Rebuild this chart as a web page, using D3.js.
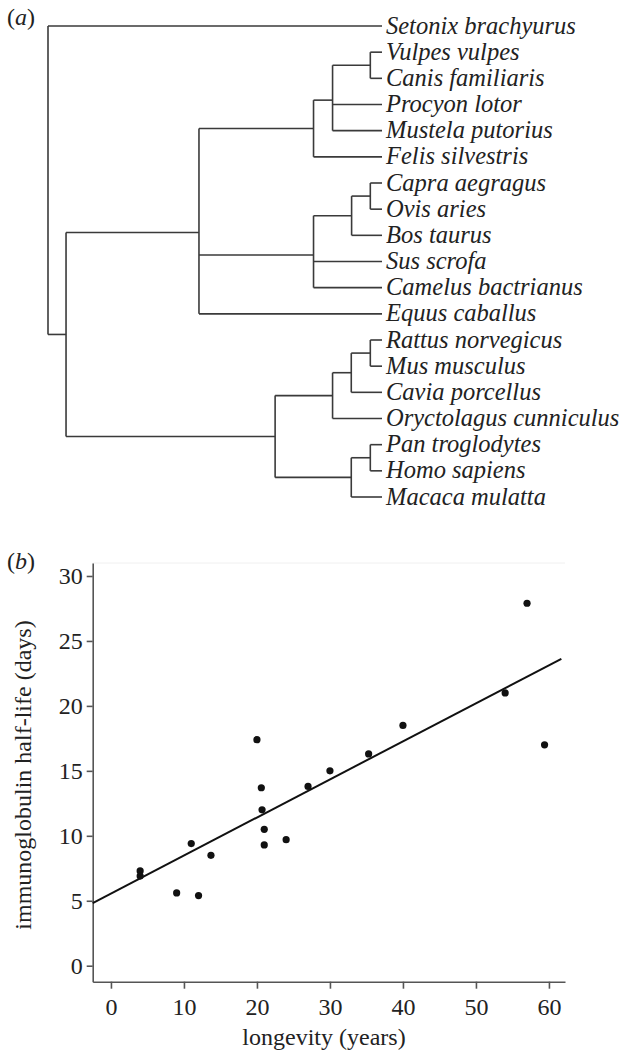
<!DOCTYPE html>
<html lang="en">
	<head>
		<meta charset="utf-8">
		<title>D3: phylogeny and immunoglobulin half-life</title>
		<script src="https://d3js.org/d3.v7.min.js"></script>
		<style type="text/css">
			body { margin: 0; background: #fff; }
			svg text { font-family: "Liberation Serif", "Times New Roman", serif; fill: #222; }
		</style>
	</head>
	<body>
		<script type="text/javascript">

			//Width and height
			var w = 621;
			var h = 1053;

			// (a) tree: tips in drawing order, each with its parent clade
			var species = ["Setonix brachyurus", "Vulpes vulpes", "Canis familiaris", "Procyon lotor",
							"Mustela putorius", "Felis silvestris", "Capra aegragus", "Ovis aries",
							"Bos taurus", "Sus scrofa", "Camelus bactrianus", "Equus caballus",
							"Rattus norvegicus", "Mus musculus", "Cavia porcellus",
							"Oryctolagus cunniculus", "Pan troglodytes", "Homo sapiens", "Macaca mulatta"];
			var speciesParents = ["root", "canidae", "canidae", "caniformia",
							"caniformia", "carnivora", "caprinae", "caprinae",
							"ruminantia", "cetartiodactyla", "cetartiodactyla", "laurasiatheria",
							"muridae", "muridae", "rodentia",
							"glires", "hominidae", "hominidae", "primates"];

			// internal clades, their parents and their depth (0 = root, 1 = tips)
			var clades = ["root", "eutheria", "laurasiatheria", "carnivora", "caniformia", "canidae",
							"cetartiodactyla", "ruminantia", "caprinae", "euarchontoglires",
							"glires", "rodentia", "muridae", "primates", "hominidae"];
			var cladeParents = [null, "root", "eutheria", "laurasiatheria", "carnivora", "caniformia",
							"laurasiatheria", "cetartiodactyla", "ruminantia", "eutheria",
							"euarchontoglires", "glires", "rodentia", "euarchontoglires", "primates"];
			var cladeDepths = [0, 0.054, 0.452, 0.795, 0.852, 0.965,
							0.795, 0.909, 0.965, 0.680,
							0.852, 0.908, 0.965, 0.908, 0.965];

			// (b) scatter: longevity (years) vs immunoglobulin half-life (days)
			var longevity = [4, 4, 9, 11, 12, 13.7, 20, 20.6, 20.7, 21, 21, 24, 27, 30, 35.3, 40, 54, 57, 59.4];
			var halfLife = [7.3, 6.9, 5.6, 9.4, 5.4, 8.5, 17.4, 13.7, 12.0, 10.5, 9.3, 9.7, 13.8, 15.0, 16.3, 18.5, 21.0, 27.9, 17.0];
			var fitIntercept = 5.55;
			var fitSlope = 0.293;
			var xTicks = [0, 10, 20, 30, 40, 50, 60];
			var yTicks = [0, 5, 10, 15, 20, 25, 30];

			//Create SVG element
			var svg = d3.select("body")
						.append("svg")
						.attr("width", w)
						.attr("height", h);

			// ---------- (a) tree ----------
			var rows = clades.map(function(c, i) {
				return { id: c, parent: cladeParents[i], depth01: cladeDepths[i] };
			});
			species.forEach(function(s, i) {
				rows.push({ id: s, parent: speciesParents[i], depth01: 1 });
			});
			var root = d3.stratify().id(function(d) { return d.id; }).parentId(function(d) { return d.parent; })(rows);

			var tx = d3.scaleLinear().domain([0, 1]).range([48, 382]);
			var ty = d3.scalePoint().domain(species).range([26, 497]);

			// put children back into tip order, then place each clade at the mean of its children
			root.eachAfter(function(n) {
				if (n.children) {
					n.children.sort(function(a, b) { return a.yy - b.yy; });
					n.yy = d3.mean(n.children, function(c) { return c.yy; });
				} else {
					n.yy = ty(n.id);
				}
			});

			var tree = svg.append("g")
						.attr("fill", "none")
						.attr("stroke", "#3a3a3a")
						.attr("stroke-width", 1.6);

			// horizontal stems
			tree.selectAll("line.stem")
				.data(root.descendants().filter(function(n) { return n.parent; }))
				.enter()
				.append("line")
				.attr("x1", function(n) { return tx(n.parent.data.depth01); })
				.attr("x2", function(n) { return tx(n.data.depth01); })
				.attr("y1", function(n) { return n.yy; })
				.attr("y2", function(n) { return n.yy; });

			// vertical connectors
			tree.selectAll("line.join")
				.data(root.descendants().filter(function(n) { return n.children; }))
				.enter()
				.append("line")
				.attr("x1", function(n) { return tx(n.data.depth01); })
				.attr("x2", function(n) { return tx(n.data.depth01); })
				.attr("y1", function(n) { return d3.min(n.children, function(c) { return c.yy; }); })
				.attr("y2", function(n) { return d3.max(n.children, function(c) { return c.yy; }); });

			svg.selectAll("text.tip")
				.data(root.leaves())
				.enter()
				.append("text")
				.attr("x", tx(1) + 4)
				.attr("y", function(n) { return n.yy; })
				.attr("dy", "0.31em")
				.attr("font-size", "24.5px")
				.attr("font-style", "italic")
				.text(function(n) { return n.id; });

			var la = svg.append("text").attr("x", 7).attr("y", 25).attr("font-size", "24px");
			la.append("tspan").text("(");
			la.append("tspan").attr("font-style", "italic").text("a");
			la.append("tspan").text(")");

			// ---------- (b) scatter ----------
			var x = d3.scaleLinear().domain([-2.5, 62.2]).range([92.7, 565]);
			var y = d3.scaleLinear().domain([-1.23, 31]).range([981.7, 563]);

			svg.append("line")
				.attr("x1", x(-2.5)).attr("x2", x(62.2))
				.attr("y1", y(31)).attr("y2", y(31))
				.attr("stroke", "#f0f0f0");

			var xAxis = svg.append("g")
				.attr("transform", "translate(0," + y(-1.23) + ")")
				.call(d3.axisBottom(x).tickValues(xTicks).tickSize(7).tickSizeOuter(0).tickPadding(9));
			var yAxis = svg.append("g")
				.attr("transform", "translate(" + x(-2.5) + ",0)")
				.call(d3.axisLeft(y).tickValues(yTicks).tickSize(6).tickSizeOuter(0).tickPadding(4));

			[xAxis, yAxis].forEach(function(a) {
				a.attr("font-family", null).attr("font-size", null);
				a.select(".domain").attr("stroke", "#555").attr("stroke-width", 1.6);
				a.selectAll(".tick line").attr("stroke", "#555").attr("stroke-width", 1.6);
				a.selectAll(".tick text").attr("font-size", "24px").attr("fill", "#222");
			});

			svg.append("line")
				.attr("x1", x(-2.5)).attr("x2", x(61.7))
				.attr("y1", y(fitIntercept + fitSlope * -2.5))
				.attr("y2", y(fitIntercept + fitSlope * 61.7))
				.attr("stroke", "#111")
				.attr("stroke-width", 2);

			svg.selectAll("circle")
			   .data(longevity)
			   .enter()
			   .append("circle")
			   .attr("cx", function(d) { return x(d); })
			   .attr("cy", function(d, i) { return y(halfLife[i]); })
			   .attr("r", 3.6)
			   .attr("fill", "#111");

			svg.append("text")
				.attr("x", 324)
				.attr("y", 1045)
				.attr("text-anchor", "middle")
				.attr("font-size", "24px")
				.text("longevity (years)");

			svg.append("text")
				.attr("transform", "translate(31," + 775 + ") rotate(-90)")
				.attr("text-anchor", "middle")
				.attr("font-size", "24px")
				.text("immunoglobulin half-life (days)");

			var lb = svg.append("text").attr("x", 7).attr("y", 569).attr("font-size", "24px");
			lb.append("tspan").text("(");
			lb.append("tspan").attr("font-style", "italic").text("b");
			lb.append("tspan").text(")");

		</script>
	</body>
</html>
